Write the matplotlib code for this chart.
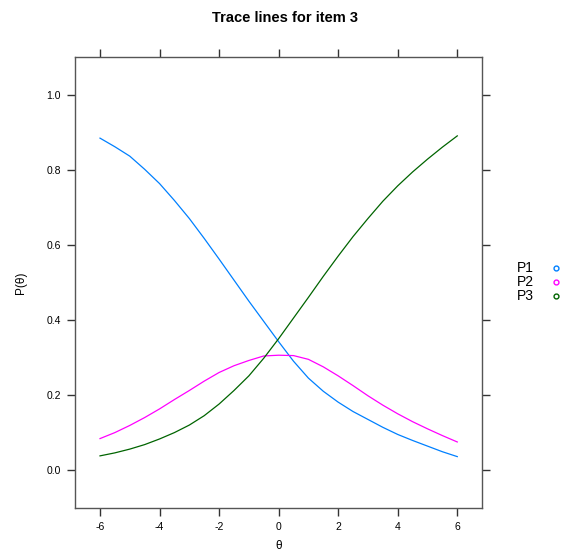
import numpy as np
from matplotlib import pyplot as plt

plt.rcParams['font.family'] = ['Liberation Sans', 'DejaVu Sans']

# values
theta = [-6, -5.5, -5, -4.5, -4, -3.5, -3, -2.5, -2, -1.5, -1, -0.5, 0,
         0.5, 1, 1.5, 2, 2.5, 3, 3.5, 4, 4.5, 5, 5.5, 6]
p1 = [0.884, 0.861, 0.836, 0.801, 0.763, 0.718, 0.670, 0.617, 0.562, 0.506,
      0.450, 0.396, 0.342, 0.290, 0.245, 0.210, 0.181, 0.156, 0.135, 0.114,
      0.095, 0.079, 0.064, 0.049, 0.036]
p2 = [0.084, 0.100, 0.119, 0.140, 0.163, 0.188, 0.212, 0.237, 0.260, 0.278,
      0.292, 0.304, 0.306, 0.305, 0.295, 0.275, 0.251, 0.225, 0.198, 0.173,
      0.150, 0.129, 0.110, 0.092, 0.075]
p3 = [0.038, 0.046, 0.056, 0.068, 0.083, 0.100, 0.120, 0.145, 0.176, 0.212,
      0.251, 0.298, 0.350, 0.405, 0.460, 0.516, 0.570, 0.622, 0.670, 0.716,
      0.757, 0.794, 0.828, 0.860, 0.890]
series = {'P1': p1, 'P2': p2, 'P3': p3}
colors = {'P1': '#0080ff', 'P2': '#ff00ff', 'P3': '#006400'}

xticks = [-6, -4, -2, 0, 2, 4, 6]
yticks = [0.0, 0.2, 0.4, 0.6, 0.8, 1.0]

fig = plt.figure(figsize=(5.69, 5.60), dpi=100)
ax = fig.add_axes([0.1318, 0.0934, 0.7158, 0.8048])

for name, vals in series.items():
    ax.plot(theta, vals, color=colors[name], lw=0.9)

ax.set_xlim(-6.84, 6.84)
ax.set_ylim(-0.1, 1.1)
ax.set_xticks(xticks)
ax.set_xticklabels([str(t) for t in xticks])
ax.set_yticks(yticks)
ax.set_yticklabels(['%.1f' % t for t in yticks])
ax.tick_params(direction='out', length=6, width=1, color='#333333',
               labelsize=7.5, top=True, right=True, pad=4)
for s in ax.spines.values():
    s.set_color('#555555')
    s.set_linewidth(1)

ax.set_xlabel('θ', fontsize=8.5, labelpad=6)
ax.set_ylabel('P(θ)', fontsize=8.5, labelpad=14)
fig.suptitle('Trace lines for item 3', fontsize=10.5, fontweight='bold',
             x=0.5, y=0.98)

# legend on the right, lattice style
for i, name in enumerate(series):
    yy = 1 - (268 + 14 * i) / 560
    fig.text(517 / 569, yy, name, fontsize=10, va='center', ha='left')
    fig.lines.append(plt.Line2D([556 / 569], [yy], transform=fig.transFigure,
                                marker='o', ms=3.5, mfc='none',
                                mec=colors[name], mew=1, ls='none'))

plt.savefig('out.png', dpi=100)
